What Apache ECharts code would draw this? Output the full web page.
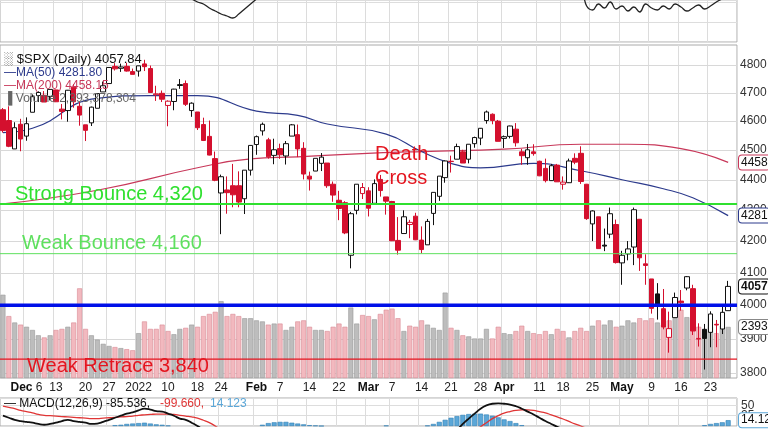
<!DOCTYPE html>
<html><head><meta charset="utf-8">
<script src="https://cdn.jsdelivr.net/npm/echarts@6/dist/echarts.min.js"></script>
<style>html,body{margin:0;padding:0;background:#fff}#c{width:768px;height:432px}</style>
</head><body><div id="c"></div>
<script>
const dates = ["11-30","12-01","12-02","12-03","12-06","12-07","12-08","12-09","12-10","12-13","12-14","12-15","12-16","12-17","12-20","12-21","12-22","12-23","12-27","12-28","12-29","12-30","12-31",
"01-03","01-04","01-05","01-06","01-07","01-10","01-11","01-12","01-13","01-14","01-18","01-19","01-20","01-21","01-24","01-25","01-26","01-27","01-28","01-31",
"02-01","02-02","02-03","02-04","02-07","02-08","02-09","02-10","02-11","02-14","02-15","02-16","02-17","02-18","02-22","02-23","02-24","02-25","02-28",
"03-01","03-02","03-03","03-04","03-07","03-08","03-09","03-10","03-11","03-14","03-15","03-16","03-17","03-18","03-21","03-22","03-23","03-24","03-25","03-28","03-29","03-30","03-31",
"04-01","04-04","04-05","04-06","04-07","04-08","04-11","04-12","04-13","04-14","04-18","04-19","04-20","04-21","04-22","04-25","04-26","04-27","04-28","04-29",
"05-02","05-03","05-04","05-05","05-06","05-09","05-10","05-11","05-12","05-13","05-16","05-17","05-18","05-19","05-20","05-23","05-24","05-25","05-26"];
// [open, close, low, high]
const ohlc = [
[4640,4567,4560,4646],[4602,4513,4510,4652],[4504,4577,4504,4596],[4589,4538,4496,4608],
[4548,4591,4532,4613],[4631,4686,4631,4694],[4690,4701,4667,4705],[4691,4667,4667,4706],[4687,4712,4673,4713],
[4710,4668,4667,4711],[4642,4634,4606,4660],[4637,4709,4598,4710],[4720,4668,4647,4731],[4652,4621,4584,4667],
[4587,4568,4531,4587],[4594,4649,4583,4651],[4645,4697,4645,4698],[4703,4725,4703,4740],
[4733,4791,4733,4791],[4795,4786,4780,4807],[4788,4793,4775,4805],[4795,4778,4776,4808],[4776,4766,4766,4787],
[4778,4797,4758,4797],[4804,4794,4778,4819],[4787,4701,4700,4798],[4693,4696,4671,4725],[4698,4677,4667,4708],
[4655,4670,4582,4673],[4669,4713,4638,4714],[4729,4726,4714,4749],[4733,4659,4653,4744],[4637,4663,4615,4666],
[4632,4577,4569,4632],[4588,4533,4531,4612],[4547,4483,4482,4602],[4471,4398,4395,4495],
[4356,4410,4222,4417],[4366,4357,4288,4411],[4380,4350,4309,4453],[4380,4326,4309,4428],[4337,4432,4287,4432],[4432,4516,4414,4516],
[4519,4546,4484,4550],[4566,4589,4550,4595],[4535,4477,4471,4542],[4482,4501,4452,4539],
[4505,4484,4470,4522],[4480,4522,4451,4531],[4548,4587,4548,4590],[4553,4504,4476,4588],[4506,4419,4401,4527],
[4412,4402,4364,4427],[4429,4472,4429,4472],[4455,4476,4429,4490],[4456,4380,4373,4456],[4385,4349,4327,4394],
[4332,4305,4267,4363],[4324,4226,4222,4329],[4155,4288,4114,4294],[4299,4385,4286,4385],[4354,4374,4336,4389],
[4363,4306,4279,4375],[4322,4387,4317,4401],[4401,4364,4344,4416],[4343,4329,4285,4343],
[4328,4201,4200,4330],[4202,4171,4157,4277],[4224,4278,4224,4299],[4253,4260,4209,4268],[4280,4204,4203,4291],
[4203,4173,4161,4247],[4188,4263,4188,4271],[4289,4358,4251,4358],[4345,4412,4330,4412],[4407,4463,4390,4465],
[4462,4461,4424,4481],[4469,4512,4469,4522],[4494,4456,4456,4501],[4469,4520,4455,4520],[4522,4543,4508,4546],
[4541,4575,4517,4576],[4602,4632,4591,4637],[4624,4602,4589,4627],[4600,4530,4530,4604],[4540,4546,4507,4550],
[4547,4583,4540,4584],[4572,4525,4512,4593],[4494,4481,4450,4504],[4474,4501,4450,4521],[4494,4488,4481,4520],
[4462,4413,4412,4464],[4438,4397,4391,4471],[4397,4447,4396,4453],[4449,4393,4393,4453],
[4385,4392,4367,4411],[4390,4463,4389,4471],[4472,4459,4452,4489],[4489,4394,4386,4513],[4385,4272,4268,4386],
[4255,4297,4200,4299],[4278,4176,4176,4278],[4187,4184,4168,4240],[4222,4288,4209,4308],[4253,4132,4129,4269],
[4131,4155,4063,4169],[4159,4175,4139,4200],[4181,4301,4124,4308],[4270,4147,4106,4270],[4128,4123,4063,4158],
[4081,3991,3975,4081],[4035,4001,3957,4068],[3990,3935,3928,4050],[3904,3930,3859,3981],[3963,4024,3963,4039],
[4013,4008,3984,4047],[4053,4088,4046,4090],[4051,3923,3911,4063],[3899,3901,3877,3946],[3928,3901,3810,3944],
[3919,3974,3875,3982],[3943,3941,3875,3956],[3929,3979,3914,3999],[3984,4058,3984,4075]];
const volumeB = [3.9,2.9,2.6,2.5,2.4,2.25,2.0,1.9,2.0,2.25,2.3,2.4,2.6,4.2,2.3,2.0,1.8,1.6,1.5,1.45,1.4,1.35,1.3,
2.1,2.65,2.3,2.3,2.5,2.2,2.05,2.3,2.35,2.5,2.4,2.9,3.0,3.1,3.6,2.9,3.0,2.9,2.8,2.8,
2.7,2.65,2.5,2.55,2.55,2.25,2.4,2.65,2.7,2.4,2.25,2.25,2.2,2.4,2.55,2.4,3.3,2.55,2.95,
2.9,2.75,3.0,3.2,3.25,2.8,2.2,2.45,2.4,2.7,2.5,2.35,2.25,4.0,2.35,2.25,2.0,1.95,1.85,1.85,2.3,1.85,2.4,
2.1,2.05,2.2,2.45,2.2,2.1,2.05,2.2,2.05,2.3,2.2,1.9,2.2,2.35,2.2,2.45,2.7,2.5,2.7,2.4,
2.45,2.7,2.6,2.8,2.7,2.8,2.6,2.5,2.7,2.8,3.2,2.85,2.6,2.4,2.2,2.4,2.1,2.45,2.393378304];
// moving averages read at selected candles
const ma50Pts = {0:4560,5:4575,16:4680,25:4690,33:4690,43:4635,50:4620,55:4590,65:4555,71:4495,76:4455,81:4440,90:4455,98:4430,105:4400,112:4370,117:4340,123:4281.8};
const ma200Pts = {0:4320,16:4365,33:4440,42:4470,50:4477,60:4487,71:4495,85:4503,98:4520,106:4520,115:4505,123:4458.15};
const topLine = [55,55,55,55,55,55,55,55,55,55,55,55,55,55,55,55,55,55,55,55,55,55,55,55,55,55,55,55,55,55,
50,47,45,42,40,36,33,30,28,26,30,35,40,45,50,52,55,55,55,55,55,55,55,55,55,55,55,55,55,55,55,55,55,55,55,55,55,55,55,55,
55,55,55,55,55,55,55,55,55,55,55,55,55,55,55,55,55,55,55,55,55,55,55,55,55,55,55,55,55,
38,34,40,36,42,35,38,33,37,32,40,36,34,38,35,40,37,33,36,39,35,38,42,45,46];
const macd = [25,20,15,12,10,8,5,3,5,8,12,15,12,10,8,5,6,10,15,20,25,30,33,38,42,40,36,35,30,25,
18,15,8,0,-10,-22,-35,-50,-62,-72,-78,-80,-75,-65,-55,-48,-42,-38,-32,-28,-30,-32,-35,-36,-40,-42,-48,-55,-60,-68,
-72,-70,-66,-62,-62,-60,-65,-72,-78,-75,-72,-70,-68,-60,-48,-35,-22,-10,5,18,30,42,50,54,55,54,52,48,42,35,
28,20,12,5,-2,-8,-15,-20,-22,-30,-40,-48,-55,-60,-65,-70,-78,-84,-90,-96,-102,-106,-110,-112,-112,-110,-108,-110,-108,-104,-100,-96,-92,-85.536];
const signal = [48,45,42,38,35,32,28,26,25,24,23,22,21,20,19,18,18,19,20,21,22,23,24,26,27,28,29,29,29,28,
26,24,22,19,14,8,0,-10,-20,-30,-40,-48,-54,-57,-58,-58,-57,-55,-52,-48,-46,-44,-42,-41,-41,-41,-42,-44,-47,-51,
-55,-58,-60,-60,-61,-61,-61,-63,-66,-68,-69,-69,-69,-67,-63,-58,-51,-43,-34,-24,-13,-2,8,18,25,31,35,38,39,39,
38,35,32,27,22,17,11,5,0,-6,-13,-20,-27,-34,-40,-46,-53,-59,-66,-72,-78,-84,-89,-94,-98,-100,-102,-104,-105,-106,-105,-103,-101,-99.66];
const hist = [-23,-25,-27,-26,-25,-24,-23,-23,-20,-16,-11,-7,-9,-10,-11,-13,-12,-9,-5,2,3,5,6,7,8,6,4,3,1,-3,
-8,-9,-14,-19,-24,-30,-35,-40,-42,-42,-38,-32,-21,-8,3,7,9,10,10,8,6,4,2,1,0,-1,-6,-11,-13,-17,
-17,-12,-6,-2,-1,1,-4,-9,-12,-7,-2,-1,1,5,10,15,20,24,27,29,30,30,28,25,21,16,12,7,2,-3,
-10,-15,-20,-22,-24,-25,-26,-25,-22,-24,-27,-28,-28,-26,-25,-24,-25,-25,-24,-24,-24,-22,-21,-18,-14,-10,-6,-6,-3,2,5,7,9,14.123];
const tickLabels = {"12-06":"Dec 6","12-13":"13","12-20":"20","12-27":"27","01-03":"2022","01-10":"10","01-18":"18","01-24":"24",
"02-01":"Feb","02-07":"7","02-14":"14","02-22":"22","03-01":"Mar","03-07":"7","03-14":"14","03-21":"21","03-28":"28",
"04-01":"Apr","04-11":"11","04-18":"18","04-25":"25","05-02":"May","05-09":"9","05-16":"16","05-23":"23"};
const priceTicks = [3800,3900,4000,4100,4200,4300,4400,4500,4600,4700,4800];
const levels = [
 {name:"Strong Bounce 4,320", value:4320, color:"#2fe02f", width:2},
 {name:"Weak Bounce 4,160", value:4160, color:"#5ee05e", width:1},
 {name:"", value:4000, color:"#0010e8", width:3.5},
 {name:"Weak Retrace 3,840", value:3840, color:"#e4151f", width:1.2}];

const RED = "#d4102e";
const cats = dates.concat([""]);   // one empty slot at the right edge
const candleData = ohlc.map((d,i)=>{
  const prev = i>0 ? ohlc[i-1][1] : d[0];
  const down = d[1] < prev;
  const border = down ? RED : "#111";
  const fill = d[1] > d[0] ? "#fff" : (down ? RED : "#111");
  return {value:d, itemStyle:{color:fill,color0:fill,borderColor:border,borderColor0:border}};
});
const volData = volumeB.slice(0,ohlc.length).map((v,i)=>{
  const down = i>0 && ohlc[i][1] < ohlc[i-1][1];
  return {value:v*1e9, itemStyle:{color: down? "#f2b9bf":"#bdbdbd", borderColor: down? "#d98a93":"#999"}};
});
const sparse = pts => dates.map((d,i)=> pts[i]!==undefined ? pts[i] : null);
const showTick = i => tickLabels[cats[i]] !== undefined;
const gridL = 0, gridR = 31, plotRight = 768 - gridR;
const grids = [
 {left:gridL,right:gridR,top:0,height:42,show:true,borderColor:"#aaa"},
 {left:gridL,right:gridR,top:45,bottom:54,show:true,borderColor:"#aaa"},
 {left:gridL,right:gridR,top:65,bottom:59,show:false},
 {left:gridL,right:gridR,top:398,height:35,show:true,borderColor:"#aaa"}];
const xa = gi => ({type:"category",gridIndex:gi,data:cats,boundaryGap:true,
  axisLine:{show:false},axisTick:{show:false},
  axisLabel:{show:gi===1,interval:(i)=>showTick(i),margin:4,fontSize:12,color:"#222",fontFamily:"Arial",
    formatter:(v)=>{const t=tickLabels[v]; if(!t) return ""; const p=t.split(" "); 
      return isNaN(+p[0]) ? "{b|"+p[0]+"}"+(p[1]?" "+p[1]:"") : t;},
    rich:{b:{fontWeight:"bold",fontSize:12,color:"#111",fontFamily:"Arial"}}},
  splitLine:{show:gi!==2,interval:(i)=>showTick(i),lineStyle:{color:"#dcdcdc"}}});
const F = "Arial, 'Liberation Sans', sans-serif";
const opt = {
 animation:false,
 grid:grids,
 xAxis:[xa(0),xa(1),xa(2),xa(3)],
 yAxis:[
  {gridIndex:0,position:"right",min:2,max:44,interval:20,axisLine:{show:false},axisTick:{show:false},
   axisLabel:{fontSize:11,color:"#333",margin:4,formatter:v=>(v===10||v===30)?String(v):""},splitLine:{lineStyle:{color:"#ddd"}}},
  {gridIndex:1,position:"right",min:0,max:15.6e9,axisLine:{show:false},axisTick:{show:false},axisLabel:{show:false},splitLine:{show:false}},
  {gridIndex:2,type:"log",logBase:10,position:"right",min:3800,max:4800,axisLine:{show:false},axisTick:{show:false},
   axisLabel:{show:false},splitLine:{show:false}},
  {gridIndex:3,position:"right",min:0,max:68,interval:25,axisLine:{show:false},axisTick:{show:false},
   axisLabel:{fontSize:12,color:"#333",margin:4,formatter:v=>String(v)},splitLine:{lineStyle:{color:"#ddd"}}}],
 series:[
  {type:"line",xAxisIndex:0,yAxisIndex:0,data:topLine,symbol:"none",smooth:true,lineStyle:{color:"#222",width:1.3}},
  {type:"bar",xAxisIndex:1,yAxisIndex:1,data:volData,barWidth:5,itemStyle:{borderWidth:0.6}},
  {type:"line",xAxisIndex:2,yAxisIndex:2,data:sparse(ma200Pts),connectNulls:true,smooth:0.5,symbol:"none",z:3,lineStyle:{color:"#c8385a",width:1.2}},
  {type:"line",xAxisIndex:2,yAxisIndex:2,data:sparse(ma50Pts),connectNulls:true,smooth:0.5,symbol:"none",z:3,lineStyle:{color:"#2c3a8c",width:1.2}},
  {type:"candlestick",xAxisIndex:2,yAxisIndex:2,data:candleData,barWidth:5,clip:false,z:5},
  {type:"bar",xAxisIndex:3,yAxisIndex:3,data:hist,barWidth:5,itemStyle:{color:"#5ba7d8",borderColor:"#2f7fb5",borderWidth:0.6}},
  {type:"line",xAxisIndex:3,yAxisIndex:3,data:signal,symbol:"none",smooth:true,lineStyle:{color:"#e03535",width:1.3}},
  {type:"line",xAxisIndex:3,yAxisIndex:3,data:macd,symbol:"none",smooth:true,lineStyle:{color:"#111",width:1.8}}
 ]
};
const chart = echarts.init(document.getElementById("c"),null,{renderer:"canvas"});
chart.setOption(opt);
const g = [];
const py = v => chart.convertToPixel({yAxisIndex:2},v);
priceTicks.forEach(v=>{const y=Math.round(py(v))+0.5;
  g.push({type:"line",z:1,silent:true,shape:{x1:0,y1:y,x2:plotRight,y2:y},style:{stroke:"#d8d8d8",lineWidth:1}});
  g.push({type:"text",z:2,left:plotRight+3,top:y-7,style:{text:String(v),fill:"#333",font:"12px "+F}});});
levels.forEach(l=>{const y=py(l.value);
  g.push({type:"line",z:50,silent:true,shape:{x1:0,y1:y,x2:plotRight,y2:y},style:{stroke:l.color,lineWidth:l.width}});});
const annot = (x,y,t,c)=>({type:"text",left:x,top:y,z:100,style:{text:t,fill:c,font:"20px "+F}});
const annPos = [[15,184],[22,233],null,[27,356]];
levels.forEach((l,i)=>{ if(!l.name) return; g.push(annot(annPos[i][0],annPos[i][1],l.name,l.color)); });
g.push(annot(375,144,"Death","#e4151f"), annot(375,168,"Cross","#e4151f"));
const leg = (x,y,t,c,s)=>({type:"text",left:x,top:y,z:100,style:{text:t,fill:c,font:s+"px "+F}});
g.push(leg(4,53,"\u2591 $SPX (Daily) 4057.84","#111",13));
g.push(leg(4,67,"\u2014MA(50) 4281.80","#2c3a8c",12));
g.push(leg(4,80,"\u2014MA(200) 4458.15","#c8385a",12));
g.push(leg(4,93,"\u2590 Volume 2,393,378,304","#666",12));
g.push(leg(4,398,"\u2014 MACD(12,26,9) -85.536, ","#111",12));
g.push(leg(160,398,"-99.660, ","#e03535",12));
g.push(leg(210,398,"14.123","#5ba7d8",12));
const flags = [[2,4458.15,"4458","#c8385a",false],[2,4281.8,"4281","#2c3a8c",false],[2,4057.84,"4057","#111",true],[1,2393378304,"2393","#888",false],[3,14.123,"14.12","#5ba7d8",false]];
flags.forEach(f=>{const y = chart.convertToPixel({yAxisIndex:f[0]},f[1]);
  g.push({type:"text",left:plotRight+1,top:y-8,z:100,style:{text:f[2],fill:"#111",font:(f[4]?"bold ":"")+"12px "+F,
   backgroundColor:"#fff",borderColor:f[3],borderWidth:1,padding:[1,2],borderRadius:3}});});
chart.setOption({graphic:g});
</script></body></html>
